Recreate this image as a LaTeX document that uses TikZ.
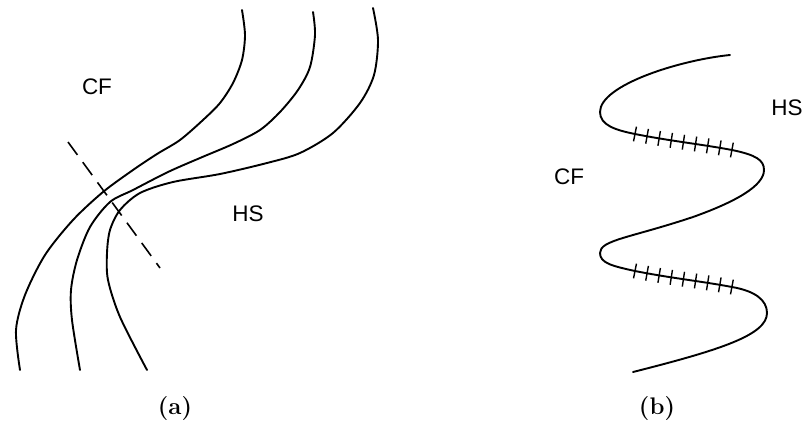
\documentclass[tikz,border=0pt]{standalone}
\usepackage{fontspec}
\newfontfamily\lblfont{Liberation Sans}
\usetikzlibrary{decorations.markings}

\begin{document}
\begin{tikzpicture}[
        x=1pt, y=-1pt,
        front/.style={line width=1.9pt, line cap=round},
        cut/.style={line width=1.6pt, dash pattern=on 16pt off 9pt},
        hatched/.style={postaction={decorate, decoration={markings,
            mark=between positions 0 and 1 step 0.1249 with {\draw[line width=1.4pt] (0,-7.5pt) -- (0,7.5pt);}}}},
        region/.style={font=\lblfont\fontsize{22.5}{26}\selectfont},
        caption/.style={font=\bfseries\fontsize{24}{28}\selectfont}
    ]
        \useasboundingbox (0,0) rectangle (806,423);

        % (a) three fronts and the cut
        \draw[front] plot[smooth] coordinates {(242,10) (245,35) (242,60) (233,83) (220,103) (203,120) (180,140) (157,154) (133,170) (103,192) (73,220) (45,255) (25,295) (16,330) (20,370)};
        \draw[front] plot[smooth] coordinates {(313,12) (315,35) (310,67) (298,90) (280,112) (260,130) (233,144) (200,158) (168,172) (133,190) (110,202) (90,227) (77,260) (71,290) (72,320) (80,370)};
        \draw[front] plot[smooth] coordinates {(373,8) (378,40) (374,75) (360,103) (333,133) (300,153) (267,163) (220,174) (173,182) (140,193) (120,210) (110,230) (107,253) (108,280) (120,317) (147,370)};
        \coordinate (cutA) at (68,142);
        \coordinate (cutB) at (160,268);
        \draw[cut] (cutA) -- (cutB);

        \node[region] (cfa) at (97,87) {CF};
        \node[region] (hsa) at (248,214) {HS};
        \node[caption] (capa) at (175,409) {(a)};

        % (b) folded front
        \draw[front] (730,55) .. controls (680,60) and (600,85) .. (600,112)
            .. controls (600,125) and (615,130) .. (635,134)
            .. controls (670,141) and (700,144) .. (732,150)
            .. controls (756,155) and (764,160) .. (764,170)
            .. controls (764,186) and (735,202) .. (693,217)
            .. controls (630,238) and (600,240) .. (600,253)
            .. controls (600,263) and (612,266) .. (635,271)
            .. controls (670,278) and (700,281) .. (732,287)
            .. controls (755,291) and (767,300) .. (767,313)
            .. controls (767,335) and (720,350) .. (633,372);
        \path[hatched] (635,134) .. controls (670,141) and (700,144) .. (732,150);
        \path[hatched] (635,271) .. controls (670,278) and (700,281) .. (732,287);

        \node[region] (cfb) at (569,177) {CF};
        \node[region] (hsb) at (787,108) {HS};
        \node[caption] (capb) at (657,409) {(b)};
    \end{tikzpicture}
\end{document}
